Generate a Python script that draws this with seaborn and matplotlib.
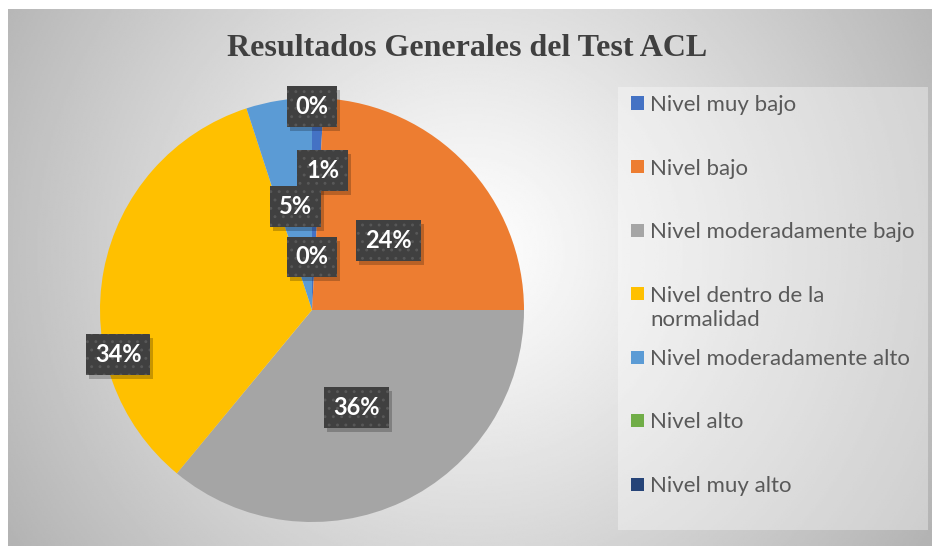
import numpy as np
import seaborn as sns
import matplotlib.pyplot as plt
from matplotlib.patches import Rectangle
from matplotlib.transforms import IdentityTransform

# data (percent of participants)
categories = ['Nivel muy bajo', 'Nivel bajo', 'Nivel moderadamente bajo',
              'Nivel dentro de la\nnormalidad', 'Nivel moderadamente alto',
              'Nivel alto', 'Nivel muy alto']
values = [0.9, 24.1, 36.0, 34.0, 5.0, 0.0, 0.0]
title = 'Resultados Generales del Test ACL'

# office-like palette
colors = ['#4472C4', '#ED7D31', '#A5A5A5', '#FFC000', '#5B9BD5', '#70AD47', '#264478']

# where excel put the data labels (pie radius = 1)
label_xy = [(0.05, 0.66), (0.36, 0.33), (0.21, -0.46), (-0.915, -0.21),
            (-0.08, 0.49), (0.0, 0.25), (0.0, 0.96)]

sns.set_theme(style='white')
plt.rcParams['font.family'] = ['Lato', 'DejaVu Sans']
plt.rcParams['hatch.linewidth'] = 0.9

W, H = 932, 546
fig = plt.figure(figsize=(W / 100, H / 100), dpi=100)

# chart area background: soft radial gray gradient
bg = fig.add_axes([8 / W, 0, 1 - 8 / W, 1 - 9 / H], zorder=-10)
yy, xx = np.mgrid[0:1:300j, 0:1:500j]
r = np.sqrt(((xx - 0.5) * 1.7) ** 2 + (yy - 0.45) ** 2)
shade = 1 - 0.30 * np.clip(r / r.max(), 0, 1) ** 1.1
bg.imshow(shade, cmap='gray', vmin=0, vmax=1, aspect='auto',
          extent=[0, 1, 0, 1], origin='upper')
bg.set_axis_off()

# legend panel
fig.add_artist(Rectangle((618 / W, 1 - 530 / H), 310 / W, 443 / H,
                         transform=fig.transFigure, fc='white', ec='none',
                         alpha=0.35, zorder=-5))

cx, cy, R = 312, 310, 212
ax = fig.add_axes([(cx - R) / W, (H - cy - R) / H, 2 * R / W, 2 * R / H])
wedges, _ = ax.pie(values, colors=colors, startangle=90, counterclock=False,
                   radius=1, wedgeprops=dict(linewidth=0))
ax.set_xlim(-1, 1)
ax.set_ylim(-1, 1)
ax.set_aspect('equal')
ax.set_axis_off()

labels = []
for v, (lx, ly) in zip(values, label_xy):
    t = ax.text(lx, ly, f'{v:.0f}%', ha='center', va='center', color='white',
                fontsize=17, fontweight='bold', zorder=5,
                bbox=dict(boxstyle='square,pad=0.38', fc='#404040',
                          ec='#585858', lw=0, hatch='..'))
    labels.append(t)

# drop shadows under the label boxes (plain patches, above the wedges)
fig.canvas.draw()
for t in labels:
    bb = t.get_bbox_patch().get_window_extent()
    ax.add_artist(Rectangle((bb.x0 + 3, bb.y0 - 4), bb.width, bb.height,
                            transform=IdentityTransform(), fc='black',
                            ec='none', alpha=0.22, zorder=4, clip_on=False))

fig.text(467 / W, 1 - 48 / H, title, ha='center', va='center',
         fontsize=23, fontweight='bold', color='#404040',
         family=['Liberation Serif', 'DejaVu Serif'])

# legend, one slot per category like excel does
slot0, step = 103, 63.5
for i, (name, col) in enumerate(zip(categories, colors)):
    y = slot0 + i * step
    fig.add_artist(Rectangle((631 / W, 1 - (y + 6.5) / H), 13 / W, 13 / H,
                             transform=fig.transFigure, fc=col, ec='none'))
    fig.text(650 / W, 1 - (y - 8) / H, name, ha='left', va='top',
             fontsize=16, color='#595959', linespacing=1.26)

fig.savefig('out.png', dpi=100)
